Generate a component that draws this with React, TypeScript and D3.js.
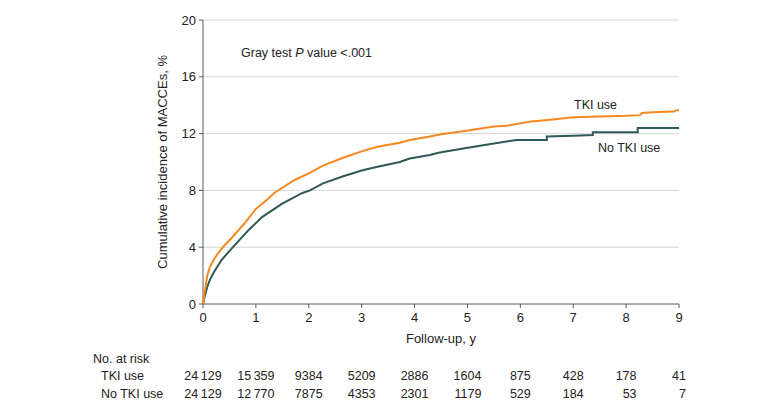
import React from "react";
import * as d3 from "d3";

const tkiT = [0, 0.03, 0.08, 0.13, 0.2, 0.29, 0.4, 0.54, 0.79, 1.0, 1.2, 1.36, 1.74, 2.0, 2.27, 2.65, 3.0, 3.28, 3.72, 3.91, 4.29, 4.5, 4.98, 5.5, 5.74, 6.2, 6.62, 7.0, 7.5, 8.0, 8.26, 8.3, 8.5, 8.9, 8.95, 9.0];
const tkiV = [0, 0.8, 2.0, 2.6, 3.1, 3.6, 4.1, 4.65, 5.7, 6.7, 7.3, 7.85, 8.75, 9.2, 9.75, 10.3, 10.75, 11.05, 11.35, 11.55, 11.8, 11.95, 12.2, 12.5, 12.55, 12.85, 13.0, 13.15, 13.2, 13.25, 13.3, 13.45, 13.5, 13.55, 13.65, 13.65];

const noT = [0, 0.03, 0.08, 0.13, 0.2, 0.35, 0.6, 0.86, 1.11, 1.49, 1.87, 2.02, 2.27, 2.65, 3.0, 3.28, 3.72, 3.91, 4.29, 4.45, 4.92, 5.5, 5.93, 6.5, 6.5, 7.0, 7.37, 7.37, 8.22, 8.22, 9.0];
const noV = [0, 0.5, 1.2, 1.7, 2.2, 3.1, 4.15, 5.2, 6.1, 7.05, 7.8, 8.0, 8.5, 9.0, 9.4, 9.65, 10.0, 10.25, 10.5, 10.65, 10.95, 11.3, 11.55, 11.55, 11.8, 11.85, 11.9, 12.1, 12.1, 12.4, 12.4];

const xTicks = [0, 1, 2, 3, 4, 5, 6, 7, 8, 9];
const yTicks = [0, 4, 8, 12, 16, 20];
const riskTKI = ["24\u2009129", "15\u2009359", "9384", "5209", "2886", "1604", "875", "428", "178", "41"];
const riskNo = ["24\u2009129", "12\u2009770", "7875", "4353", "2301", "1179", "529", "184", "53", "7"];

const FONT = "'Liberation Sans', Arial, sans-serif";
const FS = 12.5;
const ORANGE = "#f5891f";
const GREEN = "#2f5957";

function textWidth(s: string) {
  let w = 0;
  for (const c of s) w += c === "\u2009" ? 0.2 * FS : 0.556 * FS;
  return w;
}

export default function App() {
  const W = 780, H = 411;
  const x = d3.scaleLinear().domain([0, 9]).range([203, 679]);
  const y = d3.scaleLinear().domain([0, 20]).range([304, 20]);
  const line = d3.line<[number, number]>().x(d => x(d[0])).y(d => y(d[1])).curve(d3.curveLinear);
  const tkiPts = tkiT.map((t, i) => [t, tkiV[i]] as [number, number]);
  const noPts = noT.map((t, i) => [t, noV[i]] as [number, number]);
  const axisColor = "#5a5a5a";

  return (
    <svg width={W} height={H} style={{ display: "block", position: "absolute", left: 0, top: 0 }} fontFamily={FONT} fontSize={FS}>
      <rect width={W} height={H} fill="#fff" />
      {yTicks.filter(v => v > 0).map(v => (
        <line key={"g" + v} x1={x(0)} x2={x(9)} y1={y(v)} y2={y(v)} stroke="#d6d6d6" strokeWidth={1} />
      ))}
      <line x1={x(0)} x2={x(0)} y1={y(20)} y2={y(0)} stroke={axisColor} strokeWidth={1} />
      <line x1={x(0)} x2={x(9)} y1={y(0)} y2={y(0)} stroke={axisColor} strokeWidth={1} />
      {yTicks.map(v => (
        <g key={"y" + v}>
          <line x1={x(0) - 4} x2={x(0)} y1={y(v)} y2={y(v)} stroke={axisColor} />
          <text x={x(0) - 7} y={y(v)} dy="0.35em" textAnchor="end" fill="#222" fontSize={13}>{v}</text>
        </g>
      ))}
      {xTicks.map(t => (
        <g key={"x" + t}>
          <line x1={x(t)} x2={x(t)} y1={y(0)} y2={y(0) + 4} stroke={axisColor} />
          <text x={x(t)} y={322} textAnchor="middle" fill="#222" fontSize={13}>{t}</text>
        </g>
      ))}
      <text transform={`translate(167,${(y(0) + y(20)) / 2}) rotate(-90)`} textAnchor="middle" fill="#222" fontSize={13}>
        Cumulative incidence of MACCEs, %
      </text>
      <text x={(x(0) + x(9)) / 2} y={343} textAnchor="middle" fill="#222" fontSize={13}>Follow-up, y</text>
      <text x={241} y={57} fill="#222">Gray test <tspan fontStyle="italic">P</tspan> value &lt;.001</text>

      <path d={line(noPts) || ""} fill="none" stroke={GREEN} strokeWidth={2} />
      <path d={line(tkiPts) || ""} fill="none" stroke={ORANGE} strokeWidth={2} />

      <text x={574} y={109} fill="#222">TKI use</text>
      <text x={598} y={152} fill="#222">No TKI use</text>

      <text x={93} y={363} fill="#222">No. at risk</text>
      <text x={101} y={380} fill="#222">TKI use</text>
      <text x={101} y={398} fill="#222">No TKI use</text>
      {xTicks.map((t, i) => {
        const half = Math.max(textWidth(riskTKI[i]), textWidth(riskNo[i])) / 2;
        return (
          <g key={"r" + t}>
            <text x={x(t) + half} y={380} textAnchor="end" fill="#222">{riskTKI[i]}</text>
            <text x={x(t) + half} y={398} textAnchor="end" fill="#222">{riskNo[i]}</text>
          </g>
        );
      })}
    </svg>
  );
}
